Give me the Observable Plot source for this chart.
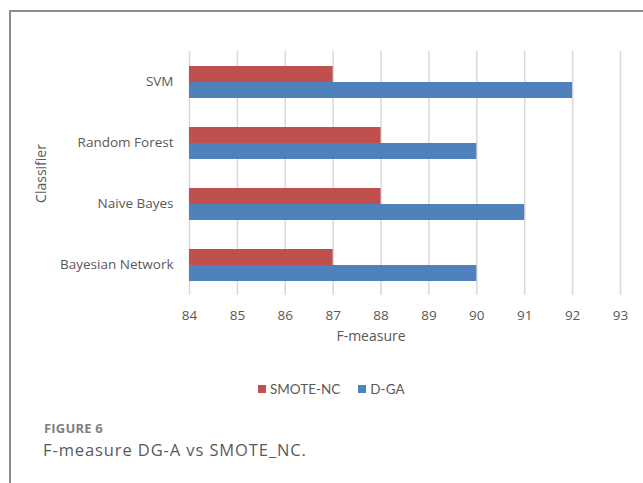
<!DOCTYPE html>
<html>
<head>
<meta charset="utf-8">
<script src="https://cdn.jsdelivr.net/npm/d3@7"></script>
<script src="https://cdn.jsdelivr.net/npm/@observablehq/plot@0.6"></script>
<style>
  html, body { margin: 0; padding: 0; background: #fff; }
  #page { position: relative; width: 643px; height: 483px; overflow: hidden; font-family: "Open Sans", sans-serif; }
  #frame { position: absolute; left: 9px; top: 10px; width: 700px; height: 500px;
           border-left: 2px solid #8c8c8c; border-top: 2px solid #8c8c8c; }
  #chart { position: absolute; left: 0; top: 0; }
  #legend { position: absolute; top: 381px; left: 0; width: 643px; display: flex; justify-content: flex-start;
            font-family: Lato, sans-serif; font-size: 13.5px; color: #595959; }
  #legend .item { display: flex; align-items: center; margin-right: 18px; }
  #legend .swatch { width: 8px; height: 8px; margin-right: 4px; }
  #fig { position: absolute; left: 44px; top: 419px; font-family: "Open Sans", sans-serif; font-size: 13px;
         font-weight: 700; letter-spacing: 0.2px; color: #808080; }
  #caption { position: absolute; left: 43px; top: 438px; font-family: "Open Sans", sans-serif; font-size: 16.5px;
             letter-spacing: 0.9px; color: #5a5a5a; }
</style>
</head>
<body>
<div id="page">
  <div id="frame"></div>
  <div id="chart"></div>
  <div id="legend"></div>
  <div id="fig">FIGURE 6</div>
  <div id="caption">F-measure DG-A vs SMOTE_NC.</div>
</div>
<script>
// Classifiers, top to bottom
const classifiers = ["SVM", "Random Forest", "Naive Bayes", "Bayesian Network"];
// Series names, drawn in this order inside each group
const seriesNames = ["SMOTE-NC", "D-GA"];
// F-measure values per classifier
const smoteNC = [87, 88, 88, 87];
const dga = [92, 90, 91, 90];
// X axis ticks; bars start at the first tick
const xTicks = [84, 85, 86, 87, 88, 89, 90, 91, 92, 93];
const colors = ["#C0504D", "#4F81BD"];

const rows = classifiers.flatMap((c, i) => [
  {classifier: c, series: seriesNames[0], value: smoteNC[i]},
  {classifier: c, series: seriesNames[1], value: dga[i]}
]);
const xMin = xTicks[0];
const lastClassifier = classifiers[classifiers.length - 1];

const chart = Plot.plot({
  width: 643,
  height: 350,
  marginTop: 51,
  marginBottom: 55,
  marginLeft: 189,
  marginRight: 23,
  style: {fontFamily: "Open Sans, sans-serif", color: "#595959", background: "transparent"},
  x: {domain: [xTicks[0], xTicks[xTicks.length - 1]]},
  y: {domain: seriesNames, paddingInner: 0, paddingOuter: 0.9, axis: null},
  fy: {domain: classifiers, padding: 0},
  color: {domain: seriesNames, range: colors},
  marks: [
    Plot.gridX(xTicks, {stroke: "#d9d9d9", strokeOpacity: 1, strokeWidth: 1.5}),
    Plot.barX(rows, {fy: "classifier", y: "series", x1: xMin, x2: "value", fill: "series"}),
    Plot.axisX({ticks: xTicks, tickSize: 0, tickPadding: 15, fontSize: 13.5, label: null}),
    Plot.axisFy({anchor: "left", tickSize: 0, tickPadding: 16, fontSize: 13.5, label: null}),
    Plot.text(["F-measure"], {fy: () => lastClassifier, frameAnchor: "bottom", dy: 45, dx: -34,
      fontSize: 14, fill: "#595959"}),
    Plot.text(["Classifier"], {fy: () => classifiers[1], frameAnchor: "bottom-left", dx: -144,
      textAnchor: "middle", rotate: -90, fontSize: 14, fill: "#595959"})
  ]
});
document.getElementById("chart").appendChild(chart);

// Legend below the chart
const legend = d3.select("#legend");
legend.append("div").style("width", "258px");
seriesNames.forEach((s, i) => {
  const item = legend.append("div").attr("class", "item");
  item.append("div").attr("class", "swatch").style("background", colors[i]);
  item.append("span").text(s);
});
</script>
</body>
</html>
